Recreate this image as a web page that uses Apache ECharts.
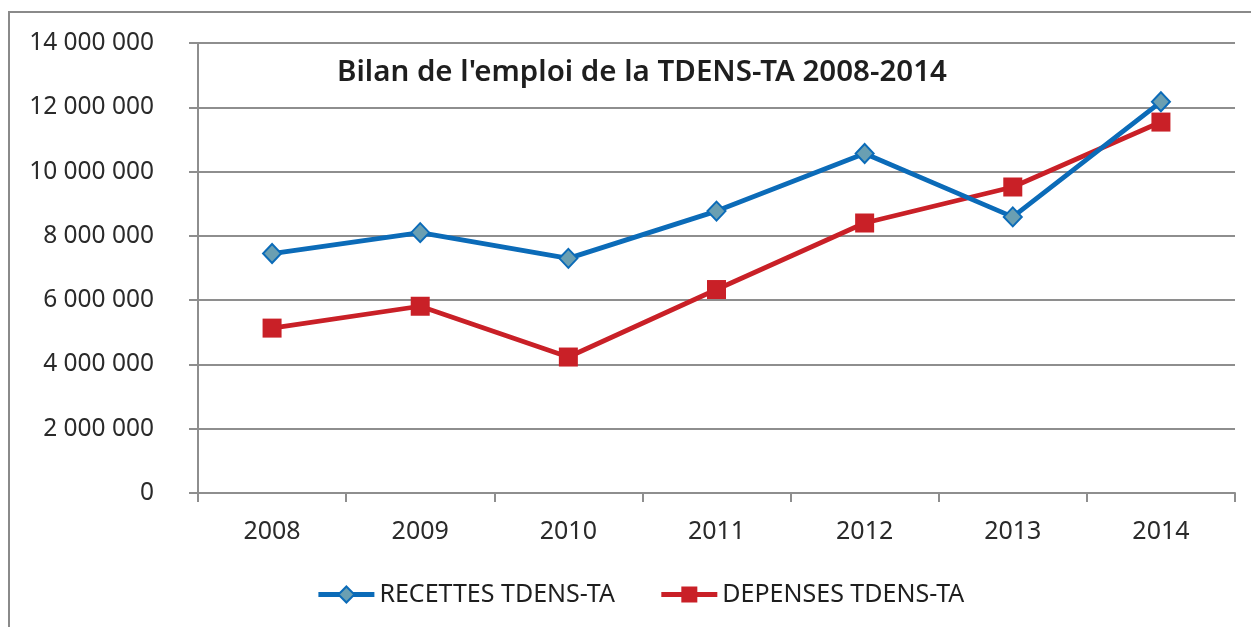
<!DOCTYPE html>
<html>
<head>
<meta charset="utf-8">
<script src="https://cdn.jsdelivr.net/npm/echarts@6/dist/echarts.min.js"></script>
<style>
  html, body { margin: 0; padding: 0; background: #ffffff; }
  #chart { width: 1251px; height: 627px; }
</style>
</head>
<body>
<div id="chart"></div>
<script>
// Années du bilan
const years = ['2008', '2009', '2010', '2011', '2012', '2013', '2014'];
// Recettes de la TDENS-TA (en euros)
const recettes = [7450000, 8100000, 7300000, 8770000, 10560000, 8590000, 12170000];
// Dépenses de la TDENS-TA (en euros)
const depenses = [5130000, 5810000, 4230000, 6330000, 8400000, 9520000, 11540000];
// Graduations de l'axe des valeurs
const yMin = 0, yMax = 14000000, yStep = 2000000;

const FONT = '"Noto Sans", "DejaVu Sans", sans-serif';
const GRID_COLOR = '#8e8e8e';
const BLUE = '#0b6bb8';
const RED = '#c92027';

// Séparateur de milliers par espace : 14 000 000
function fmt(v) {
  return String(Math.round(v)).replace(/\B(?=(\d{3})+(?!\d))/g, ' ');
}

const chart = echarts.init(document.getElementById('chart'), null, { renderer: 'canvas' });

chart.setOption({
  backgroundColor: '#ffffff',
  animation: false,
  title: {
    text: "Bilan de l'emploi de la TDENS-TA 2008-2014",
    left: 332,
    top: 53,
    textStyle: { fontFamily: FONT, fontSize: 29.5, fontWeight: 600, color: '#1e1e1e' }
  },
  legend: {
    left: 316,
    top: 582,
    padding: 0,
    itemWidth: 56,
    itemHeight: 20,
    itemGap: 44,
    lineStyle: { width: 4.8 },
    textStyle: { fontFamily: FONT, fontSize: 25, color: '#1e1e1e' },
    data: ['RECETTES TDENS-TA', 'DEPENSES TDENS-TA']
  },
  grid: { left: 198, right: 16, top: 43, bottom: 134, containLabel: false },
  xAxis: {
    type: 'category',
    data: years,
    boundaryGap: true,
    axisLine: { show: true, lineStyle: { color: GRID_COLOR, width: 2 } },
    axisTick: { show: true, length: 9, lineStyle: { color: GRID_COLOR, width: 2 } },
    axisLabel: { margin: 26, fontFamily: FONT, fontSize: 25, color: '#2a2a2a' }
  },
  yAxis: {
    type: 'value',
    min: yMin,
    max: yMax,
    interval: yStep,
    axisLine: { show: true, lineStyle: { color: GRID_COLOR, width: 2 } },
    axisTick: { show: true, length: 9, lineStyle: { color: GRID_COLOR, width: 2 } },
    splitLine: { show: true, lineStyle: { color: GRID_COLOR, width: 2 } },
    axisLabel: { margin: 44, fontFamily: FONT, fontSize: 24.5, color: '#2a2a2a', formatter: fmt }
  },
  series: [
    {
      name: 'RECETTES TDENS-TA',
      type: 'line',
      data: recettes,
      symbol: 'diamond',
      symbolSize: [18, 19],
      showAllSymbol: true,
      lineStyle: { color: BLUE, width: 4.8 },
      itemStyle: { color: '#6a9fb2', borderColor: BLUE, borderWidth: 2 },
      z: 3
    },
    {
      name: 'DEPENSES TDENS-TA',
      type: 'line',
      data: depenses,
      symbol: 'rect',
      symbolSize: 19,
      showAllSymbol: true,
      lineStyle: { color: RED, width: 4.8 },
      itemStyle: { color: RED, borderColor: RED, borderWidth: 0 },
      z: 2
    }
  ],
  graphic: [
    {
      type: 'polyline',
      silent: true,
      shape: { points: [[9, 627], [9, 12], [1251, 12]] },
      style: { stroke: '#8a8a8a', lineWidth: 2, fill: null }
    }
  ]
});
</script>
</body>
</html>
